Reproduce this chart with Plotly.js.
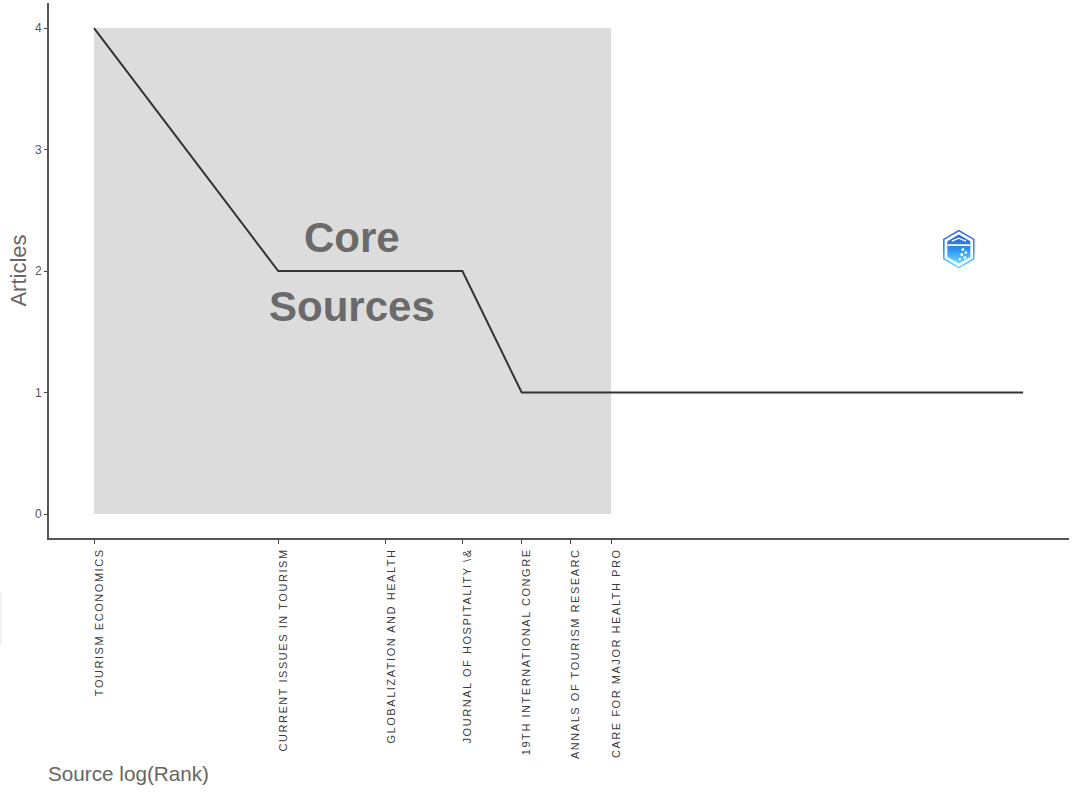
<!DOCTYPE html>
<html>
<head>
<meta charset="utf-8">
<script src="https://cdn.plot.ly/plotly-3.0.1.min.js"></script>
<style>
html,body{margin:0;padding:0;background:#fff}
#chart{width:1072px;height:792px}
.xaxislayer-above .xtick text{letter-spacing:1.55px}
</style>
</head>
<body>
<div id="chart"></div>
<script>
const ranks = [1,2,3,4,5,6,7,8,9,10,11,12,13,14,15,16,17,18,19,20,21,22,23,24,25,26,27,28,29,30,31,32,33];
const articles = [4,2,2,2,1,1,1,1,1,1,1,1,1,1,1,1,1,1,1,1,1,1,1,1,1,1,1,1,1,1,1,1,1];
const coreRanks = [1,7,7,1,1];
const coreValues = [0,0,4,4,0];
const tickRanks = [1,2,3,4,5,6,7];
const sourceLabels = [
  "TOURISM ECONOMICS",
  "CURRENT ISSUES IN TOURISM",
  "GLOBALIZATION AND HEALTH",
  "JOURNAL OF HOSPITALITY \\&",
  "19TH INTERNATIONAL CONGRE",
  "ANNALS OF TOURISM RESEARC",
  "CARE FOR MAJOR HEALTH PRO"
];
const logoSvg = `<svg xmlns="http://www.w3.org/2000/svg" viewBox="0 0 32 39">
<defs><linearGradient id="g" x1="0" y1="0" x2="0" y2="1"><stop offset="0" stop-color="#2f62d6"/><stop offset="0.5" stop-color="#2a90f0"/><stop offset="1" stop-color="#6fdcfb"/></linearGradient></defs>
<polygon points="16,1 31,9.8 31,29.2 16,38 1,29.2 1,9.8" fill="#fff" stroke="url(#g)" stroke-width="1.6"/>
<polygon points="16,5 27.5,11.6 27.5,27.4 16,34 4.5,27.4 4.5,11.6" fill="url(#g)"/>
<path d="M5 15.5H27" stroke="#fff" stroke-width="1.6"/>
<path d="M9 11.5L16 8.5L23 11.5" stroke="#fff" stroke-width="1.2" fill="none"/>
<circle cx="20" cy="20" r="1.4" fill="#fff"/><circle cx="23" cy="23" r="1.4" fill="#fff"/><circle cx="19" cy="25" r="1.5" fill="#fff"/><circle cx="22" cy="28" r="1.4" fill="#fff"/><circle cx="17" cy="29.5" r="1.2" fill="#fff"/>
</svg>`;

const traces = [
  {x: coreRanks, y: coreValues, mode: "lines", fill: "toself", fillcolor: "#dcdcdc",
   line: {width: 0, color: "#dcdcdc"}, hoverinfo: "skip", showlegend: false},
  {x: ranks, y: articles, mode: "lines", line: {color: "#333333", width: 2}, showlegend: false}
];

const layout = {
  width: 1072, height: 792,
  margin: {l: 49, r: 3, t: 3, b: 254, pad: 0},
  paper_bgcolor: "#ffffff", plot_bgcolor: "#ffffff",
  font: {family: "Liberation Sans, Arial, sans-serif", color: "#555555"},
  showlegend: false,
  xaxis: {
    type: "log", range: [-0.0736, 1.5935],
    tickmode: "array", tickvals: tickRanks, ticktext: sourceLabels,
    tickangle: -90, ticks: "outside", ticklen: 4, tickwidth: 1, tickcolor: "#444444",
    tickfont: {size: 11, color: "#3a3a3a"}, ticklabelshift: 5,
    showgrid: false, zeroline: false,
    showline: true, linecolor: "#555555", linewidth: 2
  },
  yaxis: {
    range: [-0.1975, 4.206],
    tickmode: "array", tickvals: [0,1,2,3,4],
    ticks: "outside", ticklen: 3, tickwidth: 1, tickcolor: "#444444",
    tickfont: {size: 12, color: "#555555"},
    showgrid: false, zeroline: false,
    showline: true, linecolor: "#555555", linewidth: 2,
    title: {text: "Articles", font: {size: 22, color: "#666666"}, standoff: 2}
  },
  annotations: [
    {xref: "paper", yref: "paper", x: -0.003, y: -0.441, xanchor: "left", yanchor: "middle",
     text: "Source log(Rank)", showarrow: false, font: {size: 20.7, color: "#666666"}},
    {xref: "x", yref: "y", x: 0.422, y: 2.28, xanchor: "center", yanchor: "middle",
     text: "<b>Core</b>", showarrow: false, font: {size: 42, color: "#6a6a6a"}},
    {xref: "x", yref: "y", x: 0.422, y: 1.71, xanchor: "center", yanchor: "middle",
     text: "<b>Sources</b>", showarrow: false, font: {size: 42, color: "#6a6a6a"}}
  ],
  shapes: [
    {type: "rect", xref: "paper", yref: "paper", x0: -0.048, x1: -0.0465, y0: -0.2, y1: -0.1,
     fillcolor: "#f1f1f1", line: {width: 0}}
  ],
  images: [
    {source: "data:image/svg+xml;utf8," + encodeURIComponent(logoSvg),
     xref: "paper", yref: "paper", x: 0.892, y: 0.540,
     sizex: 0.0314, sizey: 0.073, sizing: "stretch", xanchor: "center", yanchor: "middle", layer: "above"}
  ]
};

Plotly.newPlot("chart", traces, layout, {displayModeBar: false, staticPlot: true});
</script>
</body>
</html>
